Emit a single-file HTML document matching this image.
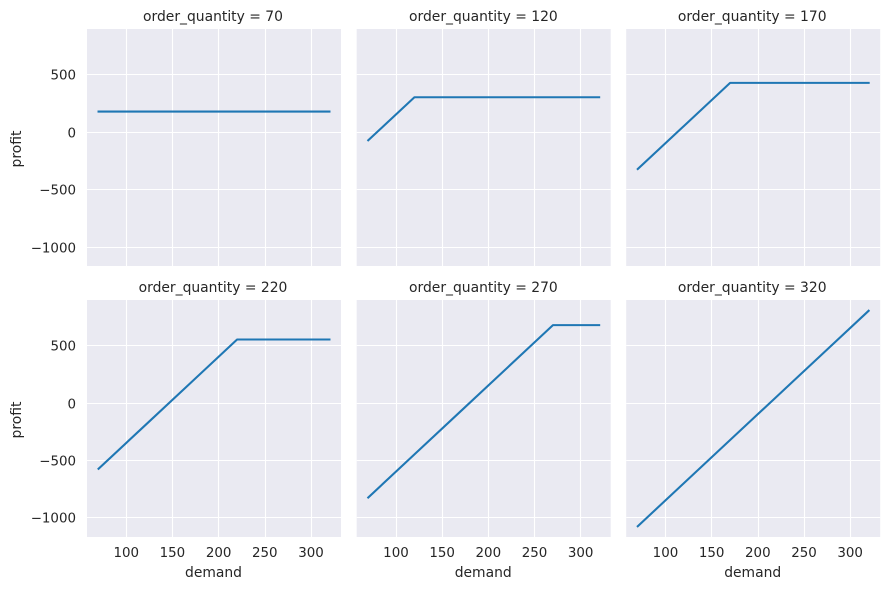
<!DOCTYPE html>
<html>
<head>
<meta charset="utf-8">
<title>Profit by demand and order quantity</title>
<style>
html,body{margin:0;padding:0;background:#fff;}
svg{display:block;}
text{font-family:"DejaVu Sans","Liberation Sans",sans-serif;font-size:13.89px;fill:#262626;}
text.tick{font-size:13.4px;}
</style>
</head>
<body>
<svg id="chart" width="889" height="590" viewBox="0 0 889 590" xmlns="http://www.w3.org/2000/svg"></svg>
<script>
const orderQuantities = [70, 120, 170, 220, 270, 320];
const demand = [70, 120, 170, 220, 270, 320];
const profit70 = [175, 175, 175, 175, 175, 175];
const profit120 = [-75, 300, 300, 300, 300, 300];
const profit170 = [-325, 50, 425, 425, 425, 425];
const profit220 = [-575, -200, 175, 550, 550, 550];
const profit270 = [-825, -450, -75, 300, 675, 675];
const profit320 = [-1075, -700, -325, 50, 425, 800];
const xTicks = [100, 150, 200, 250, 300];
const yTicks = [500, 0, -500, -1000];

const allProfit = [profit70, profit120, profit170, profit220, profit270, profit320];
const svgNS = 'http://www.w3.org/2000/svg';
const svg = document.getElementById('chart');
const panelW = 254, panelH = 237;
const colLeft = [87, 356.7, 626.2];
const rowTop = [29, 300];
const rowSnap = [0.4, 0.3];
const titleNudge = [-1, -0.3, -1];

const xMin = Math.min(...demand), xMax = Math.max(...demand);
const xPad = (xMax - xMin) * 0.05;
const flat = allProfit.flat();
const yMin = Math.min(...flat), yMax = Math.max(...flat);
const yPad = (yMax - yMin) * 0.05;

function xScale(v, left) {
  return left + (v - (xMin - xPad)) / ((xMax + xPad) - (xMin - xPad)) * panelW;
}
function yScale(v, top) {
  return top + ((yMax + yPad) - v) / ((yMax + yPad) - (yMin - yPad)) * panelH;
}
function make(tag, attrs, parent) {
  const el = document.createElementNS(svgNS, tag);
  for (const k in attrs) el.setAttribute(k, attrs[k]);
  parent.appendChild(el);
  return el;
}
function fmt(v) {
  return v < 0 ? '\u2212' + Math.abs(v) : String(v);
}

orderQuantities.forEach(function (q, i) {
  const col = i % 3, row = Math.floor(i / 3);
  const left = colLeft[col], top = rowTop[row];

  const g = make('g', {}, svg);
  
  

  const bg = make('rect', { x: left, y: top, width: panelW, height: panelH, fill: '#eaeaf2' }, g);
  
  

  xTicks.forEach(function (t) {
    const x = xScale(t, left);
    const sx = Math.floor(x + 0.3) + 0.5;
    const grid = make('line', { x1: sx, x2: sx, y1: top, y2: top + panelH, stroke: '#fff', 'stroke-width': 1.1 }, g);
    
    
    if (row === 1) {
      const lab = make('text', { x: x, y: 557, 'text-anchor': 'middle', class: 'tick' }, g);
      lab.textContent = fmt(t);
      
      
    }
  });

  yTicks.forEach(function (t) {
    const y = yScale(t, top);
    const sy = Math.floor(y + rowSnap[row]) + 0.5;
    const grid = make('line', { x1: left, x2: left + panelW, y1: sy, y2: sy, stroke: '#fff', 'stroke-width': 1.1 }, g);
    
    
    if (col === 0) {
      const lab = make('text', { x: 76, y: sy + 5, 'text-anchor': 'end', class: 'tick' }, g);
      lab.textContent = fmt(t);
      
      
    }
  });

  const pts = demand.map(function (d, j) {
    return xScale(d, left).toFixed(2) + ',' + yScale(allProfit[i][j], top).toFixed(2);
  }).join(' ');
  const line = make('polyline', { points: pts, fill: 'none', stroke: '#1f77b4', 'stroke-width': 2.08, 'stroke-linejoin': 'round', 'stroke-linecap': 'square' }, g);
  
  

  const title = make('text', { x: left + panelW / 2 + titleNudge[col], y: top - 8, 'text-anchor': 'middle' }, g);
  title.textContent = 'order_quantity = ' + q;
  
  

  if (row === 1) {
    const xl = make('text', { x: left + panelW / 2 - 0.5, y: 577, 'text-anchor': 'middle' }, g);
    xl.textContent = 'demand';
    
    
  }
  if (col === 0) {
    const cy = top + panelH / 2 + 1.5;
    const yl = make('text', { x: 21, y: cy, 'text-anchor': 'middle', transform: 'rotate(-90 21 ' + cy + ')' }, g);
    yl.textContent = 'profit';
    
    
  }
});
</script>
</body>
</html>
